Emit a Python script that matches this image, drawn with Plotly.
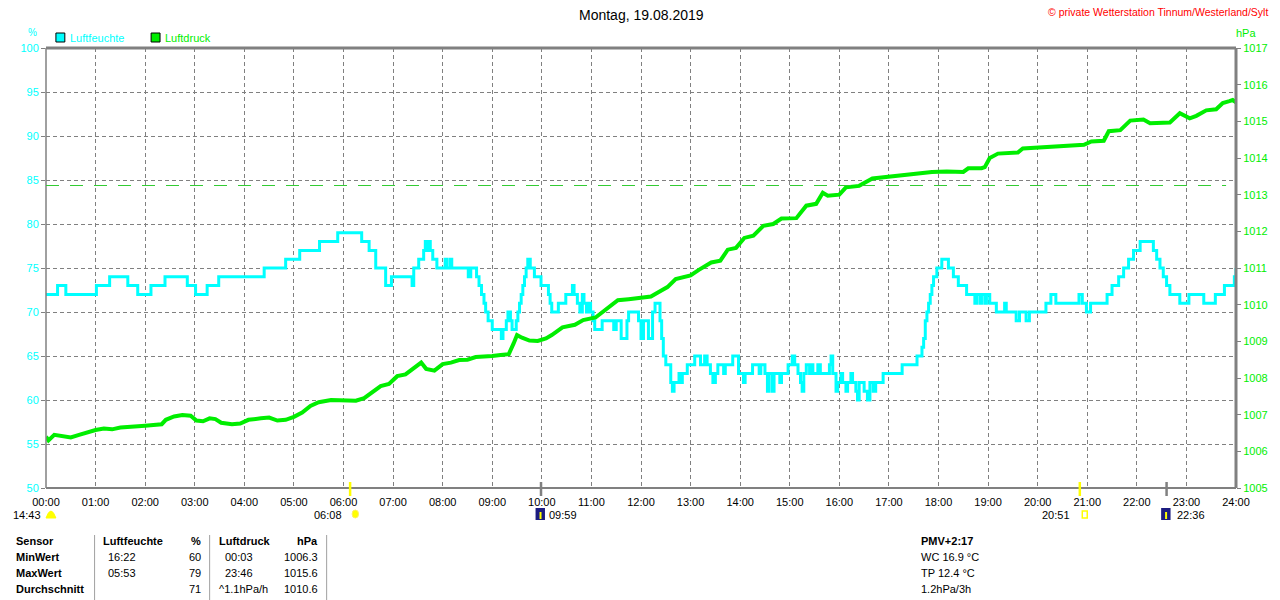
import plotly.graph_objects as go

# ---------------- data ----------------
hum_times = ["00:00","00:14","00:24","01:01","01:17","01:39","01:51","02:07","02:24","02:51","03:01","03:15","03:29","04:24","04:50","05:07","05:31","05:53",
             "06:22","06:31","06:39","06:51","06:58","07:23","07:25","07:31","07:37","07:39","07:41","07:43","07:45","07:48","07:53","08:03","08:05","08:09","08:11",
             "08:31","08:34","08:41","08:44","08:47","08:50","08:52","08:55","09:00","09:11","09:13","09:17","09:19","09:22","09:24","09:29","09:31","09:33","09:35",
             "09:37","09:39","09:41","09:43","09:46","09:51","09:59","10:08","10:10","10:12","10:20","10:29","10:37","10:39","10:43","10:46","10:49","10:51","10:54",
             "10:57","10:59","11:02","11:04","11:13","11:27","11:30","11:36","11:43","11:45","11:57","12:00","12:03","12:09","12:14","12:17","12:23","12:25","12:27",
             "12:30","12:36","12:38","12:40","12:46","12:48","12:50","12:56","13:05","13:12","13:17","13:20","13:24","13:27","13:30","13:33","13:40","13:42","13:51",
             "13:58","14:04","14:06","14:15","14:23","14:25","14:30","14:33","14:35","14:39","14:41","14:48","14:50","14:58","15:03","15:06","15:10","15:13","15:15",
             "15:17","15:20","15:24","15:26","15:28","15:34","15:37","15:48","15:50","15:52","15:56","15:58","16:02","16:04","16:08","16:10","16:14","16:16","16:20",
             "16:22","16:24","16:30","16:34","16:37","16:41","16:44","16:53","17:16","17:34","17:40","17:42","17:44","17:46","17:48","17:50","17:52","17:54","17:58",
             "18:04","18:12","18:18","18:24","18:34","18:44","18:46","18:50","18:52","18:56","18:58","19:02","19:10","19:20","19:22","19:34","19:38","19:46","19:50",
             "20:10","20:16","20:22","20:50","20:54","20:59","21:04","21:24","21:30","21:38","21:44","21:50","21:56","22:04","22:20","22:24","22:28","22:32","22:36",
             "22:40","22:52","23:03","23:21","23:35","23:46","23:58","24:00"]
hum_values = [72,73,72,73,74,73,72,73,74,73,72,73,74,75,76,77,78,79,
              78,77,75,73,74,73,75,76,77,78,77,78,77,76,75,76,75,76,75,
              74,75,74,73,72,71,70,69,68,67,68,69,70,69,68,69,70,71,72,
              73,74,75,76,75,74,73,72,71,70,71,72,73,72,71,70,72,71,70,
              71,70,69,68,69,68,69,67,69,70,69,67,69,67,70,71,69,67,65,
              64,62,61,62,63,62,63,64,65,64,65,64,63,62,63,64,63,64,65,
              63,62,63,64,63,64,63,61,63,61,63,62,63,64,65,64,63,62,61,
              63,64,63,64,63,64,63,64,65,63,61,62,63,62,61,62,63,62,61,
              60,62,61,60,62,61,62,63,64,65,66,67,69,70,71,72,73,74,75,
              76,75,74,73,72,71,72,71,72,71,72,71,70,71,70,69,70,69,70,
              71,72,71,72,71,70,71,72,73,74,75,76,77,78,77,76,75,74,73,
              72,71,72,71,72,73,74,75]

press_times = ["00:00","00:03","00:10","00:20","00:30","00:40","00:50","01:00","01:10","01:20","01:30","01:40","01:50","02:00","02:10","02:20","02:25","02:35",
               "02:45","02:55","03:02","03:10","03:18","03:25","03:32","03:45","03:55","04:05","04:20","04:30","04:40","04:50","05:00","05:10","05:20","05:30",
               "05:45","06:00","06:15","06:25","06:35","06:45","06:55","07:05","07:15","07:25","07:34","07:40","07:50","08:00","08:10","08:20","08:30","08:40",
               "08:50","09:00","09:10","09:20","09:26","09:30","09:36","09:45","09:55","10:05","10:12","10:25","10:40","10:50","11:05","11:20","11:32","11:45",
               "12:00","12:12","12:22","12:32","12:42","12:52","13:00","13:10","13:25","13:36","13:45","13:55","14:05","14:16","14:28","14:40","14:50","15:08",
               "15:20","15:32","15:40","15:46","16:00","16:08","16:24","16:40","16:56","17:10","17:25","17:36","17:52","18:10","18:30","18:36","18:52","18:56",
               "19:02","19:12","19:36","19:42","20:00","20:30","20:56","21:05","21:20","21:26","21:40","21:52","22:08","22:16","22:40","22:52","23:04","23:12",
               "23:24","23:36","23:44","23:52","23:56","24:00"]
press_values = [1006.40,1006.30,1006.45,1006.42,1006.38,1006.45,1006.52,1006.58,1006.62,1006.60,1006.65,1006.66,1006.68,1006.70,1006.72,1006.74,1006.86,1006.95,
                1006.99,1006.97,1006.84,1006.82,1006.90,1006.88,1006.78,1006.74,1006.76,1006.86,1006.90,1006.92,1006.84,1006.86,1006.94,1007.06,1007.24,1007.34,
                1007.40,1007.40,1007.38,1007.45,1007.62,1007.78,1007.84,1008.05,1008.10,1008.28,1008.42,1008.25,1008.20,1008.38,1008.42,1008.49,1008.50,1008.57,
                1008.58,1008.60,1008.63,1008.65,1008.95,1009.17,1009.10,1009.02,1009.01,1009.08,1009.17,1009.38,1009.45,1009.58,1009.65,1009.90,1010.12,1010.15,
                1010.18,1010.22,1010.35,1010.48,1010.70,1010.75,1010.80,1010.95,1011.15,1011.20,1011.50,1011.55,1011.82,1011.88,1012.15,1012.20,1012.35,1012.36,
                1012.70,1012.75,1013.05,1012.97,1013.00,1013.20,1013.24,1013.44,1013.48,1013.50,1013.55,1013.56,1013.62,1013.63,1013.62,1013.72,1013.72,1013.75,
                1014.00,1014.12,1014.15,1014.26,1014.28,1014.33,1014.36,1014.45,1014.47,1014.73,1014.76,1015.02,1015.05,1014.95,1014.97,1015.22,1015.08,1015.15,
                1015.30,1015.33,1015.50,1015.55,1015.58,1015.52]

x_tick_labels = ["%02d:00" % h for h in range(25)]
hum_ticks = [50, 55, 60, 65, 70, 75, 80, 85, 90, 95, 100]
press_ticks = list(range(1005, 1018))
ref_pressure = 1013.25

sunrise, sunset = "06:08", "20:51"
moon1, moon2 = "09:59", "22:36"
day_length = "14:43"

table_header = ["Sensor", "Luftfeuchte", "%", "Luftdruck", "hPa"]
table_rows = [["MinWert", "16:22", "60", "00:03", "1006.3"],
              ["MaxWert", "05:53", "79", "23:46", "1015.6"],
              ["Durchschnitt", "", "71", "^1.1hPa/h", "1010.6"]]
extra_lines = ["<b>PMV+2:17</b>", "WC 16.9 °C", "TP 12.4 °C", "1.2hPa/3h"]


def hrs(t):
    h, m = t.split(":")
    return int(h) + int(m) / 60.0


CYAN = "#00ffff"
GREEN = "#00ee00"
GREY = "#808080"
FONT = "Liberation Sans"

# page offset of the figure (body margin) and target plot area (page pixels)
OFF = 8
W, H = 1280 - OFF, 600 - OFF
L, R, T, B = 40, 1240, 48, 488


def px(x):
    return (x - L) / (R - L)


def py(y):
    return (B - y) / (B - T)


fig = go.Figure()
fig.add_trace(go.Scatter(x=[hrs(t) for t in hum_times], y=hum_values, mode="lines",
                         line=dict(color=CYAN, width=3, shape="hv"), name="Luftfeuchte",
                         yaxis="y", showlegend=False))
fig.add_trace(go.Scatter(x=[hrs(t) for t in press_times], y=press_values, mode="lines",
                         line=dict(color=GREEN, width=4), name="Luftdruck",
                         yaxis="y2", showlegend=False))

shapes = []
# frame
shapes.append(dict(type="line", xref="paper", yref="paper", x0=0, x1=1, y0=1, y1=1, line=dict(color=GREY, width=3)))
shapes.append(dict(type="line", xref="paper", yref="paper", x0=0, x1=1, y0=0, y1=0, line=dict(color=GREY, width=2)))
shapes.append(dict(type="line", xref="paper", yref="paper", x0=0, x1=0, y0=0, y1=1, line=dict(color=GREY, width=1.5)))
shapes.append(dict(type="line", xref="paper", yref="paper", x0=1, x1=1, y0=0, y1=1, line=dict(color=GREY, width=3)))
# reference pressure
shapes.append(dict(type="line", xref="x", yref="y2", x0=0, x1=23.8, y0=ref_pressure, y1=ref_pressure,
                   line=dict(color="#33cc33", width=1.2, dash="13px,11px")))
# sun / moon ticks on x axis
for t, col in [(sunrise, "#ffff00"), (sunset, "#ffff00"), (moon1, GREY), (moon2, GREY)]:
    shapes.append(dict(type="line", xref="x", yref="paper", x0=hrs(t), x1=hrs(t), y0=py(496), y1=py(482),
                       line=dict(color=col, width=2.5)))
# sun icons
shapes.append(dict(type="circle", xref="x", yref="paper", x0=hrs(sunrise) + 0.04, x1=hrs(sunrise) + 0.17,
                   y0=py(518), y1=py(510), fillcolor="#ffff00", line=dict(color="#ffee66", width=1)))
shapes.append(dict(type="rect", xref="x", yref="paper", x0=hrs(sunset) + 0.05, x1=hrs(sunset) + 0.15,
                   y0=py(518), y1=py(511), fillcolor="white", line=dict(color="#ffff00", width=1.5)))
# day length half sun
shapes.append(dict(type="path", xref="paper", yref="paper",
                   path="M %f,%f L %f,%f Q %f,%f %f,%f Z" % (px(40), py(518), px(50), py(518), px(45), py(504), px(40), py(518)),
                   fillcolor="#ffff00", line=dict(color="#ffff00", width=1)))
# moon icons
for t in [moon1, moon2]:
    x0 = hrs(t) - 0.11
    shapes.append(dict(type="rect", xref="x", yref="paper", x0=x0, x1=x0 + 0.19, y0=py(520), y1=py(508),
                       fillcolor="#1c1c80", line=dict(width=0)))
    shapes.append(dict(type="line", xref="x", yref="paper", x0=x0 + 0.1, x1=x0 + 0.1, y0=py(519), y1=py(512),
                       line=dict(color="#ffff00", width=2)))
# table lines
for xl in [89, 205, 323, 1278]:
    shapes.append(dict(type="line", xref="paper", yref="paper", x0=px(xl), x1=px(xl), y0=py(600), y1=py(535),
                       line=dict(color="#a0a0a0", width=1)))
# legend boxes
shapes.append(dict(type="rect", xref="paper", yref="paper", x0=px(50), x1=px(59), y0=py(42), y1=py(33),
                   fillcolor=CYAN, line=dict(color="black", width=1)))
shapes.append(dict(type="rect", xref="paper", yref="paper", x0=px(146), x1=px(155), y0=py(42), y1=py(33),
                   fillcolor=GREEN, line=dict(color="black", width=1)))

ann = []


def text(x, y, s, color="black", size=11, anchor="left", bold=False):
    if bold:
        s = "<b>%s</b>" % s
    ann.append(dict(xref="paper", yref="paper", x=px(x), y=py(y), text=s, showarrow=False,
                    xanchor=anchor, yanchor="middle", font=dict(family=FONT, size=size, color=color)))


text(640, 15, "Montag, 19.08.2019", size=14, anchor="center")
text(1274, 12, "© private Wetterstation Tinnum/Westerland/Sylt", color="#ff0000", size=10.5, anchor="right")
text(62, 38, "Luftfeuchte", color=CYAN)
text(158, 38, "Luftdruck", color=GREEN)
text(26, 33, "%", color=CYAN, anchor="center", size=10)
text(1250, 33, "hPa", color=GREEN, anchor="center")
text(37, 515, day_length, anchor="right")
text(340, 515, sunrise, anchor="right")
text(545, 515, moon1, anchor="left")
text(1075, 515, sunset, anchor="right")
text(1178, 515, moon2, anchor="left")

col_x = [(8, "left"), (95, "left"), (198, "right"), (212, "left"), (316, "right")]
row_y = [541, 557, 573, 589]
for (cx, a), s in zip(col_x, table_header):
    text(cx, row_y[0], s, anchor=a, bold=True)
for r, row in enumerate(table_rows):
    for c, ((cx, a), s) in enumerate(zip(col_x, row)):
        if c == 1:
            cx = 100
        if c == 3:
            cx = 218 if s[0].isdigit() else 212
        text(cx, row_y[r + 1], s, anchor=a, bold=(c == 0))
for i, s in enumerate(extra_lines):
    text(920, row_y[i], s)

fig.update_layout(
    width=W, height=H,
    margin=dict(l=L - OFF, r=W - (R - OFF), t=T - OFF, b=H - (B - OFF), pad=0),
    plot_bgcolor="white", paper_bgcolor="white",
    font=dict(family=FONT, size=11, color="black"),
    shapes=shapes, annotations=ann,
    xaxis=dict(range=[0, 24], tickvals=list(range(25)), ticktext=x_tick_labels,
               showgrid=True, gridcolor=GREY, griddash="4px,3px", gridwidth=1,
               zeroline=False, showline=False, ticks="outside", ticklen=4,
               tickcolor="rgba(0,0,0,0)", tickfont=dict(size=11, color="black")),
    yaxis=dict(range=[50, 100], tickvals=hum_ticks, showgrid=True, gridcolor=GREY,
               griddash="4px,3px", gridwidth=1, zeroline=False, showline=False,
               ticks="outside", ticklen=4, tickcolor=GREY, tickfont=dict(size=11, color=CYAN)),
    yaxis2=dict(range=[1005, 1017], tickvals=press_ticks, overlaying="y", side="right",
                showgrid=False, zeroline=False, showline=False, ticks="outside", ticklen=4,
                tickcolor=GREY, tickfont=dict(size=11, color=GREEN)),
)

fig.write_html("out.html")
